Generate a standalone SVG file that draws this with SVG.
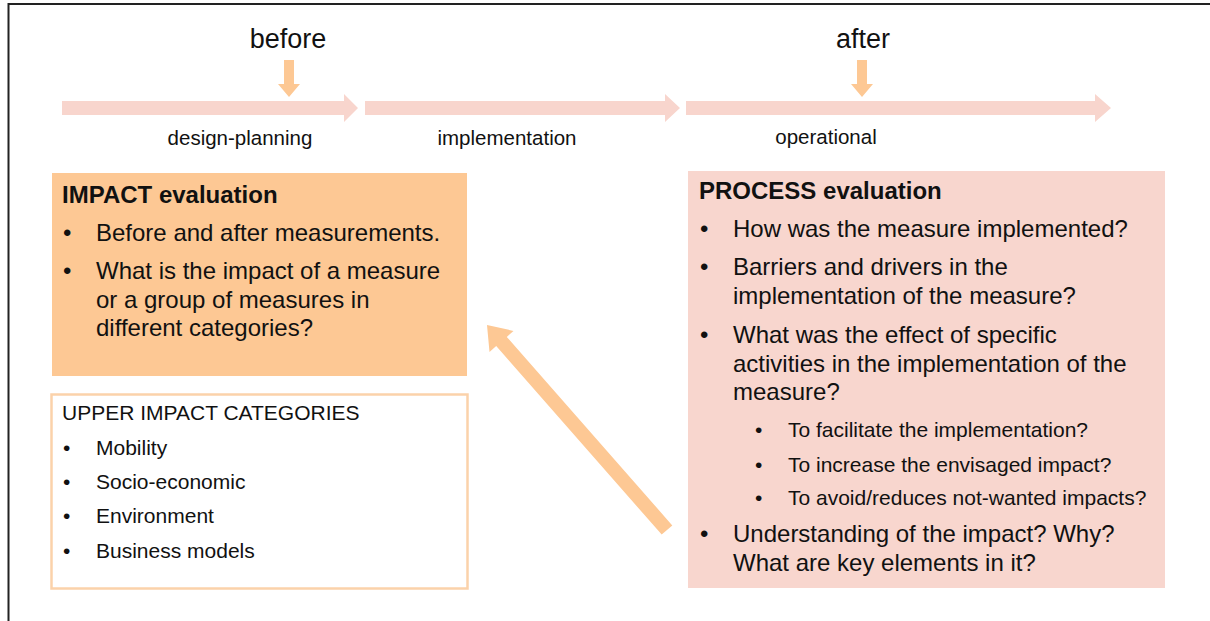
<svg xmlns="http://www.w3.org/2000/svg" width="1210" height="621" viewBox="0 0 1210 621">
<style>
text{font-family:"Liberation Sans",Arial,sans-serif;fill:#111}
.big{font-size:27px}
.lab{font-size:20.5px}
.h{font-size:24px;font-weight:bold}
.m{font-size:24px}
.s{font-size:21px}
.tl{fill:#F8D5CD}
.or{fill:#FDC894}
</style>
<rect width="1210" height="621" fill="#fff"/>
<path d="M8.5,621 V4 H1210" fill="none" stroke="#222" stroke-width="2"/>

<g id="timeline">
<polygon class="tl" points="62,101 344,101 344,94 358,108 344,122 344,115 62,115"/>
<polygon class="tl" points="365,101 665,101 665,94 680,108 665,122 665,115 365,115"/>
<polygon class="tl" points="686,101 1095,101 1095,94 1111,108 1095,122 1095,115 686,115"/>
<text class="lab" x="240" y="145" text-anchor="middle">design-planning</text>
<text class="lab" x="507" y="145" text-anchor="middle">implementation</text>
<text class="lab" x="826" y="144" text-anchor="middle">operational</text>
</g>

<g id="before">
<text class="big" x="288" y="48" text-anchor="middle">before</text>
<polygon class="or" points="284,60 294,60 294,84 300,84 289,97 278,84 284,84"/>
</g>
<g id="after">
<text class="big" x="863" y="48" text-anchor="middle">after</text>
<polygon class="or" points="857,60 867,60 867,84 873,84 862,97 851,84 857,84"/>
</g>

<g id="impact">
<rect x="52" y="173" width="415" height="203" class="or"/>
<text class="h" x="62" y="203">IMPACT evaluation</text>
<text class="m" x="63" y="241">•</text>
<text class="m" x="96" y="241">Before and after measurements.</text>
<text class="m" x="63" y="279">•</text>
<text class="m" x="96" y="279">What is the impact of a measure</text>
<text class="m" x="96" y="308">or a group of measures in</text>
<text class="m" x="96" y="336">different categories?</text>
</g>

<g id="categories">
<rect x="51.5" y="394.5" width="416" height="194" fill="#fff" stroke="#FBD2AA" stroke-width="2.5"/>
<text class="s" x="62" y="420">UPPER IMPACT CATEGORIES</text>
<text class="s" x="63" y="455">•</text><text class="s" x="96" y="455">Mobility</text>
<text class="s" x="63" y="489">•</text><text class="s" x="96" y="489">Socio-economic</text>
<text class="s" x="63" y="523">•</text><text class="s" x="96" y="523">Environment</text>
<text class="s" x="63" y="558">•</text><text class="s" x="96" y="558">Business models</text>
</g>

<g id="process">
<rect x="688" y="171" width="477" height="417" fill="#F8D6CE"/>
<text class="h" x="699" y="199">PROCESS evaluation</text>
<text class="m" x="700" y="237">•</text>
<text class="m" x="733" y="237">How was the measure implemented?</text>
<text class="m" x="700" y="275">•</text>
<text class="m" x="733" y="275">Barriers and drivers in the</text>
<text class="m" x="733" y="304">implementation of the measure?</text>
<text class="m" x="700" y="343">•</text>
<text class="m" x="733" y="343">What was the effect of specific</text>
<text class="m" x="733" y="372">activities in the implementation of the</text>
<text class="m" x="733" y="400">measure?</text>
<text class="s" x="755" y="437">•</text>
<text class="s" x="788" y="437">To facilitate the implementation?</text>
<text class="s" x="755" y="472">•</text>
<text class="s" x="788" y="472">To increase the envisaged impact?</text>
<text class="s" x="755" y="505">•</text>
<text class="s" x="788" y="505">To avoid/reduces not-wanted impacts?</text>
<text class="m" x="700" y="542">•</text>
<text class="m" x="733" y="542">Understanding of the impact? Why?</text>
<text class="m" x="733" y="571">What are key elements in it?</text>
</g>

<g id="connectors">
<polygon class="or" points="672.3,525.4 661.7,534.6 496.2,346.1 489.5,352.0 487,325 513.5,330.9 506.8,336.9"/>
</g>
</svg>
